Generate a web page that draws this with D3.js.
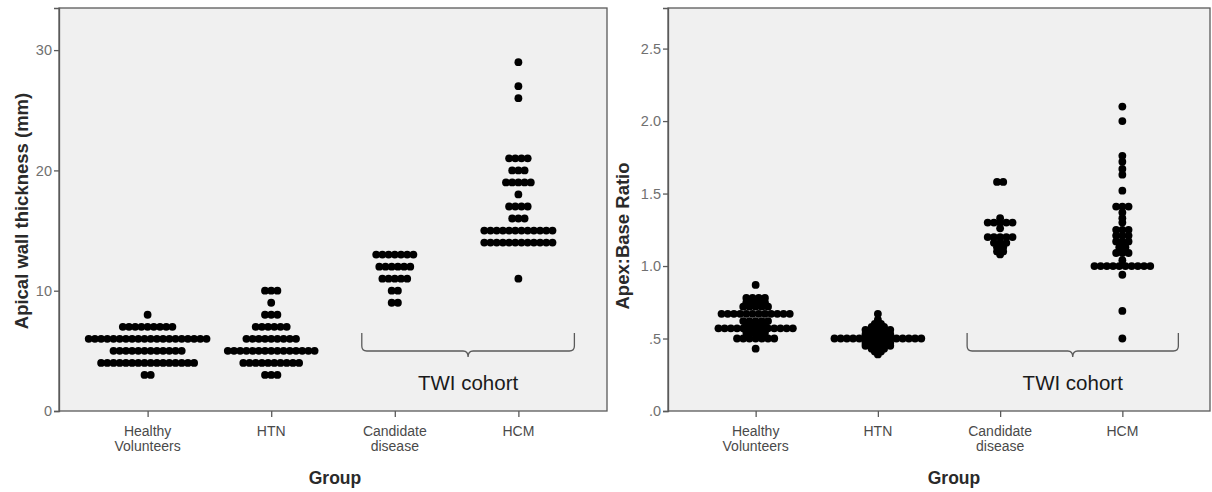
<!DOCTYPE html>
<html>
<head>
<meta charset="utf-8">
<script src="https://cdn.jsdelivr.net/npm/d3@7"></script>
<style>
  html, body { margin: 0; padding: 0; background: #fff; }
  svg { display: block; font-family: "Liberation Sans", Arial, sans-serif; }
</style>
</head>
<body>
<svg id="chart" width="1212" height="492"></svg>
<script>
// ---------- data ----------
const groups = ["Healthy Volunteers", "HTN", "Candidate disease", "HCM"];
const groupLabels = [["Healthy", "Volunteers"], ["HTN"], ["Candidate", "disease"], ["HCM"]];
const wallTicks = [0, 10, 20, 30];
const ratioTicks = [0, 0.5, 1.0, 1.5, 2.0, 2.5];

// each entry: [value, number of dots at that value]
const wallHealthy   = [[8,1],[7,9],[6,20],[5,12],[4,16],[3,2]];
const wallHTN       = [[10,3],[9,1],[8,3],[7,6],[6,9],[5,15],[4,10],[3,3]];
const wallCandidate = [[13,7],[12,6],[11,5],[10,2],[9,2]];
const wallHCM       = [[29,1],[27,1],[26,1],[21,4],[20,3],[19,5],[18,1],[17,4],[16,3],[15,12],[14,12],[11,1]];

const ratioHealthy   = [[0.87,1],[0.78,4],[0.75,4],[0.72,5],[0.67,12],[0.62,5],[0.60,4],[0.57,13],[0.54,4],[0.50,7],[0.43,1]];
const ratioHTN       = [[0.67,1],[0.63,1],[0.60,2],[0.58,3],[0.56,5],[0.53,5],[0.50,15],[0.47,5],[0.45,5],[0.43,3],[0.41,2],[0.39,1]];
const ratioCandidate = [[1.58,2],[1.33,1],[1.30,5],[1.26,1],[1.20,5],[1.16,3],[1.13,2],[1.10,2],[1.08,1]];
const ratioHCM       = [[2.10,1],[2.00,1],[1.76,1],[1.72,1],[1.67,1],[1.63,1],[1.52,1],[1.41,3],[1.37,1],[1.33,1],[1.30,1],[1.25,3],[1.21,3],[1.17,3],[1.13,2],[1.09,3],[1.04,1],[1.00,10],[0.94,1],[0.69,1],[0.50,1]];

const wallData  = [wallHealthy, wallHTN, wallCandidate, wallHCM];
const ratioData = [ratioHealthy, ratioHTN, ratioCandidate, ratioHCM];

// ---------- drawing ----------
const svg = d3.select("#chart");
const plotTop = 8, plotBottom = 411;
const dotR = 3.9, dotStep = 6.2;

function panel(cfg) {
  const g = svg.append("g");
  const x = d3.scalePoint().domain(groups).range([cfg.left, cfg.right]).padding(0.717);
  const y = d3.scaleLinear().domain([0, cfg.ymax]).range([plotBottom, plotTop]);

  g.append("rect")
    .attr("x", cfg.left).attr("y", plotTop)
    .attr("width", cfg.right - cfg.left).attr("height", plotBottom - plotTop)
    .attr("fill", "#f0f0f0").attr("stroke", "#5a5a5a").attr("stroke-width", 1.3);

  // y axis
  const yAxis = d3.axisLeft(y).tickValues(cfg.ticks).tickSize(5).tickPadding(2).tickFormat(cfg.fmt);
  const ya = g.append("g").attr("transform", `translate(${cfg.left},0)`).call(yAxis);
  ya.select(".domain").attr("stroke", "#5a5a5a").attr("stroke-width", 1.3);
  ya.selectAll(".tick line").attr("stroke", "#5a5a5a").attr("stroke-width", 1.3);
  ya.selectAll(".tick text").attr("fill", "#707070").style("font-size", "14.5px")
    .style("font-family", "'Liberation Sans', Arial, sans-serif");

  // x axis
  const xAxis = d3.axisBottom(x).tickSize(6).tickFormat("");
  const xa = g.append("g").attr("transform", `translate(0,${plotBottom})`).call(xAxis);
  xa.select(".domain").remove();
  xa.selectAll(".tick line").attr("stroke", "#5a5a5a").attr("stroke-width", 1.3);

  // category labels
  groups.forEach((grp, i) => {
    const t = g.append("text").attr("x", x(grp)).attr("y", 436)
      .attr("text-anchor", "middle").attr("fill", "#4a4a4a").style("font-size", "14px");
    groupLabels[i].forEach((line, j) => {
      t.append("tspan").attr("x", x(grp)).attr("dy", j === 0 ? 0 : 15).text(line);
    });
  });

  // axis titles
  g.append("text").attr("x", cfg.groupX).attr("y", 484)
    .attr("text-anchor", "middle").attr("fill", "#2a2a2a")
    .style("font-size", "17.5px").style("font-weight", "bold").text("Group");
  g.append("text").attr("transform", `translate(${cfg.titleX},${cfg.titleY}) rotate(-90)`)
    .attr("text-anchor", "middle").attr("fill", "#2a2a2a")
    .style("font-size", "18.5px").style("font-weight", "bold").text(cfg.title);

  // dots
  const dots = [];
  cfg.data.forEach((rows, gi) => {
    rows.forEach(([v, n]) => {
      for (let k = 0; k < n; k++) {
        dots.push({ g: groups[gi], v: v, off: (k - (n - 1) / 2) * dotStep });
      }
    });
  });
  g.append("g").selectAll("circle").data(dots).join("circle")
    .attr("cx", d => x(d.g) + d.off)
    .attr("cy", d => y(d.v))
    .attr("r", dotR)
    .attr("fill", "#000");

  // TWI cohort brace
  const x1 = x(groups[2]) - 33, x2 = x(groups[3]) + 56;
  const xm = (x1 + x2) / 2;
  const yb = 351, yt = 333;
  const p = `M${x1},${yt} L${x1},${yb - 5} Q${x1},${yb} ${x1 + 5},${yb} L${xm - 5},${yb} Q${xm},${yb} ${xm},${yb + 6} Q${xm},${yb} ${xm + 5},${yb} L${x2 - 5},${yb} Q${x2},${yb} ${x2},${yb - 5} L${x2},${yt}`;
  g.append("path").attr("d", p).attr("fill", "none").attr("stroke", "#5a5a5a").attr("stroke-width", 1.3);
  g.append("text").attr("x", xm).attr("y", 390).attr("text-anchor", "middle")
    .attr("fill", "#1a1a1a").style("font-size", "20.5px").text("TWI cohort");
}

const ratioFmt = d => {
  const s = d3.format(".1f")(d);
  return d < 1 ? s.replace(/^0/, "") : s;
};

panel({ left: 59, right: 607, ymax: 33.5, ticks: wallTicks, fmt: d3.format("d"),
        data: wallData, title: "Apical wall thickness (mm)", titleX: 28, titleY: 211, groupX: 335 });
panel({ left: 668, right: 1210, ymax: 2.78, ticks: ratioTicks, fmt: ratioFmt,
        data: ratioData, title: "Apex:Base Ratio", titleX: 629, titleY: 236, groupX: 954 });
</script>
</body>
</html>
